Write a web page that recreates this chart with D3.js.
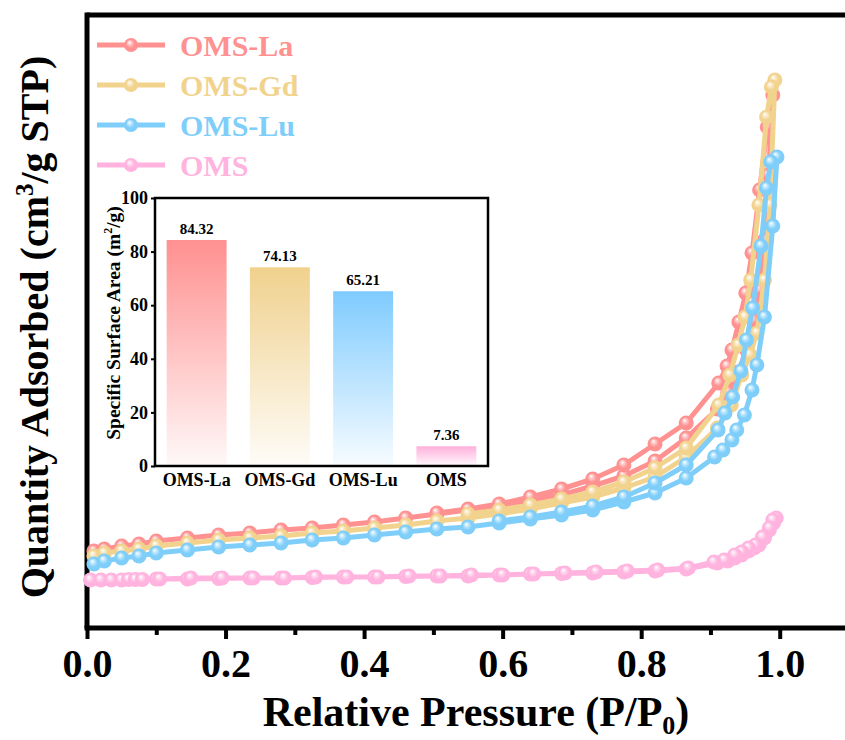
<!DOCTYPE html>
<html>
<head>
<meta charset="utf-8">
<script src="https://cdn.jsdelivr.net/npm/d3@7"></script>
<style>
  body { margin: 0; background: #fff; }
  svg { display: block; }
  text { font-family: "Liberation Serif", "Times New Roman", serif; font-weight: bold; }
</style>
</head>
<body>
<svg id="chart" width="845" height="740"></svg>
<script>
// isotherm data: adsorption branch then desorption branch (P/P0, quantity)
const pLa = [0.01,0.025,0.05,0.075,0.1,0.145,0.19,0.235,0.28,0.325,0.37,0.415,0.46,0.505,0.55,0.595,0.64,0.685,0.73,0.775,0.82,
  0.865,0.91,0.925,0.94,0.952,0.962,0.97,0.978,0.984,0.99,
  0.982,0.971,0.96,0.951,0.941,0.931,0.924,0.912,0.865,0.82,0.775,0.73,0.685,0.64,0.595,0.55,0.505];
const qLa = [77,79,82,84,87,90,93,95,98,100,103,106,110,114,118,122,127,133,142,152,167,
  190,219,236,256,278,308,338,388,453,533,
  501,438,375,335,306,278,262,245,205,184,163,149,139,131,124,119,115];

const pGd = [0.01,0.025,0.05,0.075,0.1,0.145,0.19,0.235,0.28,0.325,0.37,0.415,0.46,0.505,0.55,0.595,0.64,0.685,0.73,0.775,0.82,
  0.865,0.91,0.93,0.945,0.957,0.967,0.978,0.986,0.993,
  0.988,0.981,0.97,0.958,0.95,0.94,0.928,0.912,0.865,0.82,0.775,0.73,0.685,0.64,0.595,0.55];
const qGd = [72,75,77,79,82,85,88,90,92,95,97,100,103,107,110,114,119,125,131,140,151,
  171,200,223,253,273,295,348,423,548,
  541,511,423,348,311,283,253,223,180,160,146,136,129,123,118,114];

const pLu = [0.01,0.025,0.05,0.075,0.1,0.145,0.19,0.235,0.28,0.325,0.37,0.415,0.46,0.505,0.55,0.595,0.64,0.685,0.73,0.775,0.82,
  0.865,0.906,0.918,0.931,0.938,0.949,0.96,0.967,0.978,0.99,0.996,
  0.987,0.981,0.973,0.961,0.952,0.944,0.932,0.921,0.911,0.865,0.82,0.775,0.73,0.685,0.64,0.595];
const qLu = [64,67,70,72,75,78,81,83,85,88,90,93,96,99,101,105,109,113,118,126,135,
  150,171,178,188,198,213,238,263,311,402,471,
  466,440,382,320,288,257,231,215,198,163,145,131,122,116,111,107];

const pOms = [0.005,0.02,0.035,0.05,0.06,0.07,0.08,0.1,
  0.145,0.19,0.235,0.28,0.325,0.37,0.415,0.46,0.505,0.55,0.595,0.64,0.685,0.73,0.775,0.82,0.865,
  0.91,0.925,0.935,0.945,0.955,0.963,0.97,0.978,0.985,0.991,0.995,
  0.99,0.985,0.975,0.965,0.955,0.945,0.935,0.92,0.905,0.868,0.824,0.78,0.735,0.69,0.645,0.6,0.555,0.51,0.465,0.42,0.375,0.33,0.285,0.24,0.195,0.15,0.105];
const qOms = [48,48,48,48,48.5,48.5,48.5,49,
  49,49.5,50,50,50.5,51,51,51.5,52,52,53,54,54.5,55,56,57,59,
  65,67,70,73,77,80,83,90,98,105,110,
  108,100,91,83,80,76,73,68,66,60,58,57,56,55,54,53,53,52,52,51,51,51,50,50,50,50,49];

const seriesNames = ["OMS-La", "OMS-Gd", "OMS-Lu", "OMS"];
const seriesColors = ["#ff9191", "#f2d38e", "#7fcefa", "#ffb3de"];
const seriesP = [pLa, pGd, pLu, pOms];
const seriesQ = [qLa, qGd, qLu, qOms];

const xTicks = [0, 0.2, 0.4, 0.6, 0.8, 1.0];
const xMinorTicks = [0.1, 0.3, 0.5, 0.7, 0.9];

// inset: BET surface area
const barNames = ["OMS-La", "OMS-Gd", "OMS-Lu", "OMS"];
const barValues = [84.32, 74.13, 65.21, 7.36];
const barColors = ["#ff9090", "#f0d18e", "#7fcbff", "#ffb0dc"];
const barTicks = [0, 20, 40, 60, 80, 100];

const svg = d3.select("#chart");
const defs = svg.append("defs");

const x = d3.scaleLinear().domain([0, 1.1]).range([87, 849]);
const y = d3.scaleLinear().domain([0, 613]).range([628, 15]);

// ball-like marker gradients
seriesColors.forEach((c, i) => {
  const grad = defs.append("radialGradient")
    .attr("id", "ball" + i)
    .attr("cx", 0.5).attr("cy", 0.5).attr("r", 0.55)
    .attr("fx", 0.38).attr("fy", 0.3);
  grad.append("stop").attr("offset", "0%").attr("stop-color", "#fff");
  grad.append("stop").attr("offset", "25%").attr("stop-color", d3.interpolateRgb(c, "#fff")(0.5));
  grad.append("stop").attr("offset", "55%").attr("stop-color", c);
  grad.append("stop").attr("offset", "100%").attr("stop-color", c);
});

// frame
svg.append("line")
  .attr("x1", x(0)).attr("x2", x(1.1)).attr("y1", y(613)).attr("y2", y(613))
  .attr("stroke", "#000").attr("stroke-width", 5);
svg.append("line")
  .attr("x1", x(0)).attr("x2", x(0)).attr("y1", y(613) - 2.5).attr("y2", y(0))
  .attr("stroke", "#000").attr("stroke-width", 5);
svg.append("line")
  .attr("x1", x(1.1)).attr("x2", x(1.1)).attr("y1", y(613)).attr("y2", y(0))
  .attr("stroke", "#000").attr("stroke-width", 5);

// x axis
const xAxis = svg.append("g")
  .attr("transform", `translate(0,${y(0)})`)
  .call(d3.axisBottom(x).tickValues(xTicks).tickFormat(d3.format(".1f"))
    .tickSize(11).tickSizeOuter(0).tickPadding(10));
xAxis.select(".domain").attr("stroke-width", 5).attr("d", `M${x(0) - 2.5},0H${x(1.1)}`);
xAxis.selectAll(".tick line").attr("stroke-width", 4);
xAxis.selectAll(".tick text")
  .attr("font-size", 40)
  .attr("font-family", "Liberation Serif, Times New Roman, serif")
  .attr("font-weight", "bold")
  .attr("fill", "#000");

const xMinor = svg.append("g")
  .attr("transform", `translate(0,${y(0)})`)
  .call(d3.axisBottom(x).tickValues(xMinorTicks).tickFormat("").tickSize(7).tickSizeOuter(0));
xMinor.select(".domain").remove();
xMinor.selectAll(".tick line").attr("stroke-width", 4);

// axis titles
const xTitle = svg.append("text")
  .attr("x", 476).attr("y", 726)
  .attr("text-anchor", "middle")
  .attr("font-size", 42);
xTitle.append("tspan").text("Relative Pressure (P/P");
xTitle.append("tspan").attr("font-size", 26).attr("dy", 8).text("0");
xTitle.append("tspan").attr("dy", -8).text(")");

const yTitle = svg.append("text")
  .attr("transform", "translate(48,327) rotate(-90)")
  .attr("text-anchor", "middle")
  .attr("font-size", 40);
yTitle.append("tspan").text("Quantity Adsorbed (cm");
yTitle.append("tspan").attr("font-size", 25).attr("dy", -15).text("3");
yTitle.append("tspan").attr("dy", 15).text("/g STP)");

// isotherm lines and markers
const line = d3.line()
  .x(d => x(d[0]))
  .y(d => y(d[1]));

seriesNames.forEach((name, i) => {
  const pts = seriesP[i].map((p, j) => [p, seriesQ[i][j]]);
  const g = svg.append("g");
  g.append("path")
    .datum(pts)
    .attr("fill", "none")
    .attr("stroke", seriesColors[i])
    .attr("stroke-width", 5)
    .attr("stroke-linejoin", "round")
    .attr("d", line);
  g.selectAll("circle")
    .data(pts)
    .join("circle")
    .attr("cx", d => x(d[0]))
    .attr("cy", d => y(d[1]))
    .attr("r", 7.5)
    .attr("fill", `url(#ball${i})`);
});

// legend
const legend = svg.append("g");
seriesNames.forEach((name, i) => {
  const ly = 45 + i * 40;
  legend.append("line")
    .attr("x1", 97).attr("x2", 165).attr("y1", ly).attr("y2", ly)
    .attr("stroke", seriesColors[i]).attr("stroke-width", 5);
  legend.append("circle")
    .attr("cx", 131).attr("cy", ly).attr("r", 7)
    .attr("fill", `url(#ball${i})`);
  legend.append("text")
    .attr("x", 180).attr("y", ly + 11)
    .attr("font-size", 30)
    .attr("fill", seriesColors[i])
    .text(name);
});

// inset bar chart
const bx = d3.scaleBand().domain(barNames).range([155, 488]).paddingInner(0.28).paddingOuter(0.14);
const by = d3.scaleLinear().domain([0, 100]).range([466, 198]);

svg.append("rect")
  .attr("x", 155).attr("y", 198).attr("width", 333).attr("height", 268)
  .attr("fill", "#fff");

barColors.forEach((c, i) => {
  const grad = defs.append("linearGradient")
    .attr("id", "bar" + i)
    .attr("x1", 0).attr("x2", 0).attr("y1", 0).attr("y2", 1);
  grad.append("stop").attr("offset", "0%").attr("stop-color", c).attr("stop-opacity", 1);
  grad.append("stop").attr("offset", "100%").attr("stop-color", c).attr("stop-opacity", 0.06);
});

svg.append("g").selectAll("rect")
  .data(barValues)
  .join("rect")
  .attr("x", (d, i) => bx(barNames[i]))
  .attr("y", d => by(d))
  .attr("width", bx.bandwidth())
  .attr("height", d => by(0) - by(d))
  .attr("fill", (d, i) => `url(#bar${i})`);

svg.append("g").selectAll("text")
  .data(barValues)
  .join("text")
  .attr("x", (d, i) => bx(barNames[i]) + bx.bandwidth() / 2)
  .attr("y", d => by(d) - 6)
  .attr("text-anchor", "middle")
  .attr("font-size", 15)
  .text(d => d.toFixed(2));

svg.append("rect")
  .attr("x", 155).attr("y", 198).attr("width", 333).attr("height", 268)
  .attr("fill", "none").attr("stroke", "#000").attr("stroke-width", 2.5);

const byAxis = svg.append("g")
  .attr("transform", "translate(155,0)")
  .call(d3.axisLeft(by).tickValues(barTicks).tickSize(4).tickSizeOuter(0).tickPadding(3));
byAxis.select(".domain").remove();
byAxis.selectAll(".tick line").attr("stroke-width", 2);
byAxis.selectAll(".tick text")
  .attr("font-size", 18)
  .attr("font-family", "Liberation Serif, Times New Roman, serif")
  .attr("font-weight", "bold")
  .attr("fill", "#000");

const bxAxis = svg.append("g")
  .attr("transform", "translate(0,466)")
  .call(d3.axisBottom(bx).tickSize(0).tickPadding(7));
bxAxis.select(".domain").remove();
bxAxis.selectAll(".tick text")
  .attr("font-size", 18)
  .attr("font-family", "Liberation Serif, Times New Roman, serif")
  .attr("font-weight", "bold")
  .attr("fill", "#000");

const bTitle = svg.append("text")
  .attr("transform", "translate(120,323) rotate(-90)")
  .attr("text-anchor", "middle")
  .attr("font-size", 19.5);
bTitle.append("tspan").text("Specific Surface Area (m");
bTitle.append("tspan").attr("font-size", 12).attr("dy", -8).text("2");
bTitle.append("tspan").attr("dy", 8).text("/g)");
</script>
</body>
</html>
